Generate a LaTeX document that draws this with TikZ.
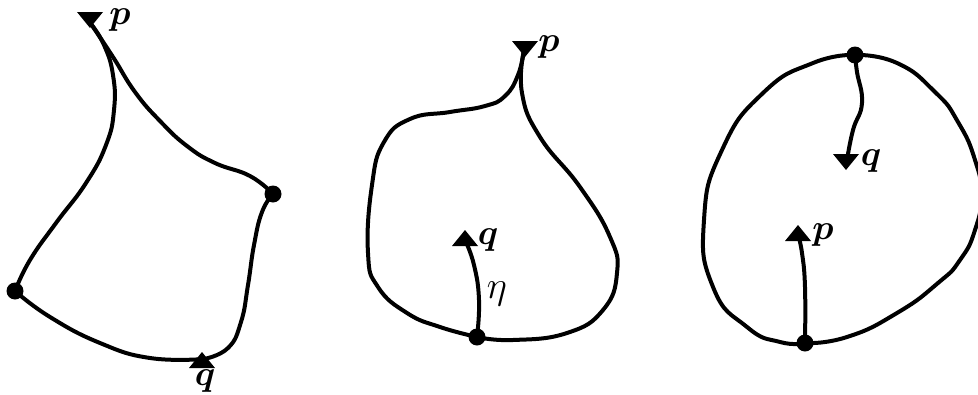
\documentclass[tikz,border=0pt]{standalone}
\usepackage{graphicx}
\usepackage{bm}
\newcommand{\biglbl}[1]{\scalebox{1.42}{\fontsize{24.88}{30}\selectfont #1}}
\newcommand{\etalbl}[1]{\scalebox{1.55}{\fontsize{24.88}{30}\selectfont #1}}
\begin{document}
\begin{tikzpicture}[x=1pt,y=-1pt,
  curve/.style={line width=4pt, line cap=round, line join=round},
  dotmark/.style={fill=black},
  lbl/.style={inner sep=0pt},
  triup/.pic={\fill (0,0) -- (13,16) -- (-13,16) -- cycle;},
  tridown/.pic={\fill (0,0) -- (13,-16) -- (-13,-16) -- cycle;}]
\useasboundingbox (0,0) rectangle (978,394);

% ---------- panel 1 ----------
\coordinate (p1) at (91,24);
\coordinate (p1t) at (90,28);
\coordinate (a1) at (15,291);
\coordinate (b1) at (273,194);
\coordinate (q1) at (204,359);
\coordinate (q1t) at (202,352);
\draw[curve] plot[smooth,tension=0.8] coordinates {(p1) (104,45) (113,75) (114,110) (106,145) (86,183) (56,223) (30,260) (a1)};
\draw[curve] plot[smooth,tension=0.8] coordinates {(p1) (113,57) (135,92) (160,121) (187,146) (215,163) (250,176) (b1)};
\draw[curve] plot[smooth,tension=0.8] coordinates {(b1) (262,212) (254,245) (248,285) (241,322) (228,348) (q1)};
\draw[curve] plot[smooth,tension=0.8] coordinates {(a1) (50,317) (100,343) (150,358) (q1)};
\pic at (p1t) {tridown};
\pic at (q1t) {triup};
\fill[dotmark] (a1) circle (8.5);
\fill[dotmark] (b1) circle (8.5);
\node[lbl] (lp1) at (120,20) {\biglbl{$\bm{p}$}};
\node[lbl] (lq1) at (205,381) {\biglbl{$\bm{q}$}};

% ---------- panel 2 ----------
\coordinate (p2) at (524,50);
\coordinate (p2t) at (525,57);
\coordinate (d2) at (477,337);
\coordinate (q2) at (465,240);
\coordinate (q2t) at (465,230);
\draw[curve] plot[smooth,tension=0.8] coordinates {(p2) (518,75) (505,96) (485,106) (450,112) (410,119) (384,142) (372,185) (368,253) (378,287) (407,313) (440,327) (d2)};
\draw[curve] plot[smooth,tension=0.8] coordinates {(p2) (522,93) (540,137) (580,187) (610,237) (617,273) (603,310) (567,333) (513,340) (d2)};
\draw[curve] plot[smooth,tension=0.8] coordinates {(d2) (479,300) (474,265) (q2)};
\pic at (p2t) {tridown};
\pic at (q2t) {triup};
\fill[dotmark] (d2) circle (8.5);
\node[lbl] (lp2) at (549,47) {\biglbl{$\bm{p}$}};
\node[lbl] (lq2) at (488,240) {\biglbl{$\bm{q}$}};
\node[lbl] (leta) at (497,294) {\etalbl{$\eta$}};

% ---------- panel 3 ----------
\coordinate (t3) at (855,55);
\coordinate (b3) at (805,343);
\coordinate (q3) at (847,160);
\coordinate (q3t) at (846,170);
\coordinate (p3) at (798,235);
\coordinate (p3t) at (798,225);
\draw[curve] plot[smooth,tension=0.9] coordinates {(t3) (813,63) (763,93) (722,150) (704,220) (713,287) (747,327) (780,342) (b3)};
\draw[curve] plot[smooth,tension=0.9] coordinates {(t3) (897,63) (935,92) (958,122) (975,160) (981,195) (975,230) (960,260) (938,283) (897,313) (847,337) (b3)};
\draw[curve] plot[smooth,tension=0.8] coordinates {(t3) (857,72) (862,103) (853,130) (q3)};
\draw[curve] plot[smooth,tension=0.8] coordinates {(b3) (805,287) (802,253) (p3)};
\pic at (q3t) {tridown};
\pic at (p3t) {triup};
\fill[dotmark] (t3) circle (8.5);
\fill[dotmark] (b3) circle (8.5);
\node[lbl] (lq3) at (871,161) {\biglbl{$\bm{q}$}};
\node[lbl] (lp3) at (823,235) {\biglbl{$\bm{p}$}};
\end{tikzpicture}
\end{document}
